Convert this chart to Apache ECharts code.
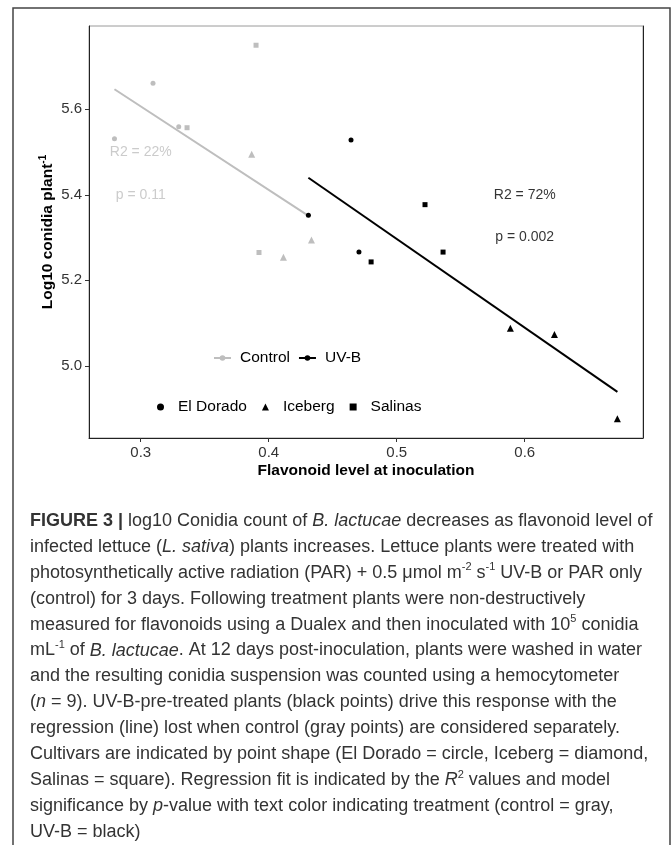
<!DOCTYPE html>
<html>
<head>
<meta charset="utf-8">
<script src="https://cdn.jsdelivr.net/npm/echarts@6/dist/echarts.min.js"></script>
<style>
html, body { margin: 0; padding: 0; background: #fff; }
#chart { width: 672px; height: 845px; }
</style>
</head>
<body>
<div id="chart"></div>
<script>
// points: [flavonoid level, log10 conidia]
const ctrlElDorado = [[0.2795, 5.531], [0.3096, 5.661], [0.3297, 5.559]];
const ctrlIceberg = [[0.3867, 5.495], [0.4115, 5.254], [0.4334, 5.294]];
const ctrlSalinas = [[0.3362, 5.557], [0.3901, 5.750], [0.3924, 5.265]];
const uvbElDorado = [[0.431, 5.352], [0.4643, 5.528], [0.4705, 5.266]];
const uvbIceberg = [[0.5888, 5.088], [0.6232, 5.073], [0.6724, 4.876]];
const uvbSalinas = [[0.4800, 5.243], [0.5221, 5.377], [0.5362, 5.266]];

// regression line ends
const ctrlFit = [[0.2795, 5.647], [0.432, 5.349]];
const uvbFit = [[0.431, 5.440], [0.6724, 4.939]];

// text labels placed in data units
const ctrlNotes = [[0.3, 5.5, 'R2 = 22%'], [0.3, 5.4, 'p = 0.11']];
const uvbNotes = [[0.6, 5.4, 'R2 = 72%'], [0.6, 5.3, 'p = 0.002']];

const xTicks = [0.3, 0.4, 0.5, 0.6];
const yTicks = [5.0, 5.2, 5.4, 5.6];

const captionLines = [
    '{b|FIGURE 3 |} log10 Conidia count of {i|B. lactucae} decreases as flavonoid level of',
    'infected lettuce ({i|L. sativa}) plants increases. Lettuce plants were treated with',
    'photosynthetically active radiation (PAR) + 0.5 μmol m{s|-2} s{s|-1} UV-B or PAR only',
    '(control) for 3 days. Following treatment plants were non-destructively',
    'measured for flavonoids using a Dualex and then inoculated with 10{s|5} conidia',
    'mL{s|-1} of {i|B. lactucae}. At 12 days post-inoculation, plants were washed in water',
    'and the resulting conidia suspension was counted using a hemocytometer',
    '({i|n} = 9). UV-B-pre-treated plants (black points) drive this response with the',
    'regression (line) lost when control (gray points) are considered separately.',
    'Cultivars are indicated by point shape (El Dorado = circle, Iceberg = diamond,',
    'Salinas = square). Regression fit is indicated by the {i|R}{s|2} values and model',
    'significance by {i|p}-value with text color indicating treatment (control = gray,',
    'UV-B = black)'
];

const GRAY = '#bebebe';
const FONT = '"Liberation Sans", Arial, sans-serif';
const CAP = 18;

var myChart = echarts.init(document.getElementById('chart'));

function pointSeries(name, data, symbol, size, color) {
    return {
        name: name,
        type: 'scatter',
        data: data,
        symbol: symbol,
        symbolSize: size,
        itemStyle: { color: color, opacity: 1 },
        z: 3,
    };
}

function noteSeries(data, color) {
    return {
        type: 'scatter',
        data: data.map((d) => ({ value: [d[0], d[1]], name: d[2] })),
        symbolSize: 0,
        silent: true,
        label: {
            show: true,
            position: 'inside',
            formatter: (p) => p.name,
            color: color,
            fontSize: 14,
            fontFamily: FONT,
        },
        z: 4,
    };
}

const capRich = {
    b: { fontWeight: 'bold', fontSize: CAP, fontFamily: FONT, lineHeight: 22 },
    i: { fontStyle: 'italic', fontSize: CAP, fontFamily: FONT, lineHeight: 22 },
    s: { fontSize: 11, fontFamily: FONT, lineHeight: 22, verticalAlign: 'top' },
};

const captionGraphics = captionLines.map((line, k) => ({
    type: 'text',
    x: 30,
    y: 521 + k * 25.9,
    style: {
        text: line,
        fontSize: CAP,
        fontFamily: FONT,
        fill: '#333',
        verticalAlign: 'middle',
        lineHeight: 22,
        rich: capRich,
    },
}));

var option = {
    animation: false,
    grid: {
        left: 89,
        right: 29,
        top: 26,
        bottom: 407,
        show: true,
        borderColor: '#9a9a9a',
        borderWidth: 1,
    },
    xAxis: {
        type: 'value',
        min: 0.2596,
        max: 0.6924,
        splitLine: { show: false },
        axisLine: { show: true, onZero: false, lineStyle: { color: '#222', width: 1 } },
        axisTick: { show: true, length: 4, customValues: xTicks, lineStyle: { color: '#333' } },
        axisLabel: { customValues: xTicks, margin: 7, fontSize: 15, color: '#333', fontFamily: FONT },
        name: 'Flavonoid level at inoculation',
        nameLocation: 'middle',
        nameGap: 25,
        nameTextStyle: { fontWeight: 'bold', fontSize: 15.5, color: '#000', fontFamily: FONT },
    },
    yAxis: [
        {
            type: 'value',
            min: 4.831,
            max: 5.795,
            splitLine: { show: false },
            axisLine: { show: true, onZero: false, lineStyle: { color: '#222', width: 1 } },
            axisTick: { show: true, length: 4, customValues: yTicks, lineStyle: { color: '#333' } },
            axisLabel: {
                customValues: yTicks,
                margin: 7,
                fontSize: 15,
                color: '#333',
                fontFamily: FONT,
                formatter: (v) => v.toFixed(1),
            },
            name: '{a|Log10 conidia plant}{s|-1}',
            nameLocation: 'middle',
            nameRotate: 90,
            nameGap: 32,
            nameMoveOverlap: false,
            nameTextStyle: {
                rich: {
                    a: { fontWeight: 'bold', fontSize: 15.5, color: '#000', fontFamily: FONT, lineHeight: 19 },
                    s: { fontWeight: 'bold', fontSize: 10, color: '#000', fontFamily: FONT, lineHeight: 19, verticalAlign: 'top' },
                },
            },
        },
        {
            type: 'value',
            position: 'right',
            min: 4.831,
            max: 5.795,
            splitLine: { show: false },
            axisLine: { show: true, lineStyle: { color: '#222', width: 1 } },
            axisTick: { show: false },
            axisLabel: { show: false },
        },
    ],
    legend: [
        {
            data: ['Control', 'UV-B'],
            left: 208,
            top: 345,
            itemWidth: 17,
            itemHeight: 7,
            itemGap: 8,
            selectedMode: false,
            textStyle: { fontSize: 15.5, color: '#000', fontFamily: FONT, padding: [0, 0, 0, 4] },
        },
        {
            data: [
                { name: 'El Dorado', itemStyle: { color: '#000' } },
                { name: 'Iceberg', itemStyle: { color: '#000' } },
                { name: 'Salinas', itemStyle: { color: '#000' } },
            ],
            left: 152,
            top: 394,
            itemWidth: 7,
            itemHeight: 7,
            itemGap: 15,
            selectedMode: false,
            textStyle: { fontSize: 15.5, color: '#000', fontFamily: FONT, padding: [0, 0, 0, 9] },
        },
    ],
    graphic: [
        {
            type: 'rect',
            shape: { x: 13, y: 8, width: 657, height: 850 },
            style: { fill: 'none', stroke: '#444', lineWidth: 1.5 },
            silent: true,
        },
        ...captionGraphics,
    ],
    series: [
        {
            name: 'Control',
            type: 'line',
            data: ctrlFit,
            symbol: 'circle',
            symbolSize: 5,
            showSymbol: false,
            lineStyle: { color: GRAY, width: 2 },
            itemStyle: { color: GRAY },
            z: 2,
        },
        {
            name: 'UV-B',
            type: 'line',
            data: uvbFit,
            symbol: 'circle',
            symbolSize: 5,
            showSymbol: false,
            lineStyle: { color: '#000', width: 2 },
            itemStyle: { color: '#000' },
            z: 2,
        },
        pointSeries('El Dorado', uvbElDorado, 'circle', 5, '#000'),
        pointSeries('Iceberg', uvbIceberg, 'triangle', 7, '#000'),
        pointSeries('Salinas', uvbSalinas, 'rect', 5, '#000'),
        pointSeries('El Dorado', ctrlElDorado, 'circle', 5, GRAY),
        pointSeries('Iceberg', ctrlIceberg, 'triangle', 7, GRAY),
        pointSeries('Salinas', ctrlSalinas, 'rect', 5, GRAY),
        noteSeries(ctrlNotes, GRAY),
        noteSeries(uvbNotes, '#000'),
    ],
};

myChart.setOption(option);
window.addEventListener('resize', () => {
    myChart.resize();
});
</script>
</body>
</html>
